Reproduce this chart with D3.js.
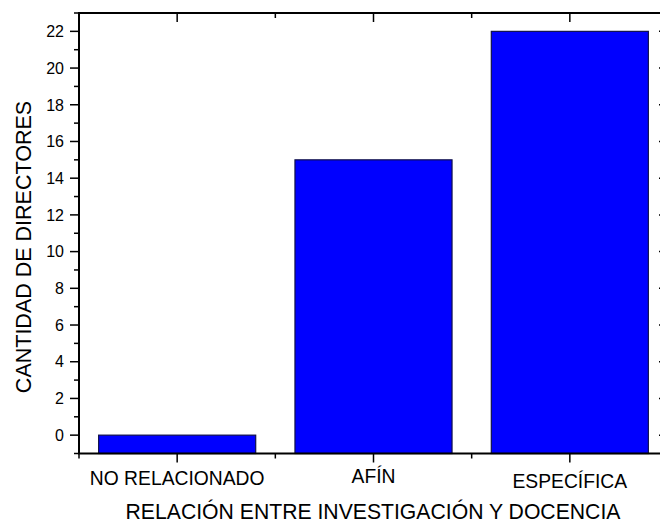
<!DOCTYPE html>
<html>
<head>
<meta charset="utf-8">
<script src="https://cdn.jsdelivr.net/npm/d3@7"></script>
<style>
html,body{margin:0;padding:0;background:#fff;}
svg{display:block;}
text{font-family:"Liberation Sans",Arial,sans-serif;fill:#000;}
</style>
</head>
<body>
<svg id="chart" width="660" height="524"></svg>
<script>
const categories = ["NO RELACIONADO", "AFÍN", "ESPECÍFICA"];
const values = [0, 15, 22];
const yMajorTicks = [0, 2, 4, 6, 8, 10, 12, 14, 16, 18, 20, 22];
const yMinorTicks = [-1, 1, 3, 5, 7, 9, 11, 13, 15, 17, 19, 21, 23];
const xTitle = "RELACIÓN ENTRE INVESTIGACIÓN Y DOCENCIA";
const yTitle = "CANTIDAD DE DIRECTORES";

const svg = d3.select("#chart");
const L = 79, R = 668, T = 13, B = 453.5;

const x = d3.scaleBand().domain(categories).range([L, R]).paddingInner(0.2).paddingOuter(0.1);
const y = d3.scaleLinear().domain([-1, 23]).range([B, T]);

// bars (from axis bottom)
svg.append("g").selectAll("rect").data(values).join("rect")
  .attr("x", (d, i) => x(categories[i]))
  .attr("width", x.bandwidth())
  .attr("y", d => y(d))
  .attr("height", d => y(-1) - y(d))
  .attr("fill", "#0000ff")
  .attr("stroke", "#10104a")
  .attr("stroke-width", 1.2);

const step = x.step();
const xMinor = d3.range(categories.length + 1).map(i => L + i * step);

const g = svg.append("g").attr("stroke", "#000").attr("fill", "none");
g.append("path").attr("d", `M${L},${T}H${R}V${B}H${L}Z`).attr("stroke-width", 2);

// left axis ticks (outward)
yMajorTicks.forEach(v => g.append("line").attr("x1", L - 9).attr("x2", L).attr("y1", y(v)).attr("y2", y(v)).attr("stroke-width", 1.5));
yMinorTicks.forEach(v => g.append("line").attr("x1", L - 5).attr("x2", L).attr("y1", y(v)).attr("y2", y(v)).attr("stroke-width", 1.5));
// right axis ticks (inward)
yMajorTicks.forEach(v => g.append("line").attr("x1", R - 9).attr("x2", R).attr("y1", y(v)).attr("y2", y(v)).attr("stroke-width", 1.5));
yMinorTicks.forEach(v => g.append("line").attr("x1", R - 5).attr("x2", R).attr("y1", y(v)).attr("y2", y(v)).attr("stroke-width", 1.5));
// bottom ticks (outward)
categories.forEach(c => g.append("line").attr("x1", x(c) + x.bandwidth() / 2).attr("x2", x(c) + x.bandwidth() / 2).attr("y1", B).attr("y2", B + 9).attr("stroke-width", 1.5));
xMinor.forEach(v => g.append("line").attr("x1", v).attr("x2", v).attr("y1", B).attr("y2", B + 5).attr("stroke-width", 1.5));
// top ticks (inward)
categories.forEach(c => g.append("line").attr("x1", x(c) + x.bandwidth() / 2).attr("x2", x(c) + x.bandwidth() / 2).attr("y1", T).attr("y2", T + 9).attr("stroke-width", 1.5));
xMinor.forEach(v => g.append("line").attr("x1", v).attr("x2", v).attr("y1", T).attr("y2", T + 5).attr("stroke-width", 1.5));

// y tick labels
svg.append("g").selectAll("text").data(yMajorTicks).join("text")
  .attr("x", 64).attr("y", d => y(d)).attr("dy", "0.36em")
  .attr("text-anchor", "end").attr("font-size", 16).text(d => d);

// category labels
const labelDy = [0, -2, 3];
svg.append("g").selectAll("text").data(categories).join("text")
  .attr("x", d => x(d) + x.bandwidth() / 2)
  .attr("y", (d, i) => 485 + labelDy[i])
  .attr("text-anchor", "middle").attr("font-size", 19.3).text(d => d);

// axis titles
svg.append("text").attr("x", 373).attr("y", 519).attr("text-anchor", "middle")
  .attr("font-size", 21.2).text(xTitle);
svg.append("text").attr("transform", "translate(31,247) rotate(-90)").attr("text-anchor", "middle")
  .attr("font-size", 21.5).text(yTitle);
</script>
</body>
</html>
